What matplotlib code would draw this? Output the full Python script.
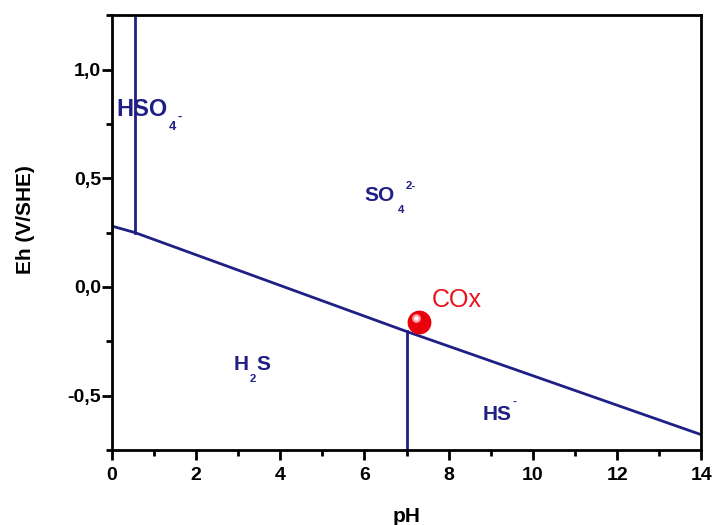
#Diagrama Eh-pH del azufre
import matplotlib
matplotlib.use("Agg")
from matplotlib import pyplot as plt
from matplotlib.ticker import MultipleLocator, FuncFormatter

plt.rcParams['font.family'] = ['Liberation Sans', 'DejaVu Sans']

azul = '#1f1f85'

#frontera H2S / sulfatos (pH, Eh)
frontera_ph = [0, 0.55, 7.0, 14]
frontera_eh = [0.28, 0.25, -0.205, -0.68]

#frontera vertical HSO4- / SO4 2-
hso4_ph = [0.55, 0.55]
hso4_eh = [0.25, 1.25]

#frontera vertical H2S / HS-
h2s_ph = [7.0, 7.0]
h2s_eh = [-0.205, -0.75]

#punto medido
cox_ph = 7.3
cox_eh = -0.16

fig = plt.figure(figsize=(7.12, 5.25), dpi=100)
ax = fig.add_axes([0.157, 0.143, 0.828, 0.828])

ax.plot(frontera_ph, frontera_eh, color=azul, lw=2)
ax.plot(hso4_ph, hso4_eh, color=azul, lw=2)
ax.plot(h2s_ph, h2s_eh, color=azul, lw=2)


#etiqueta estilo Origin: texto, subindice, resto y carga
def etiqueta(x, y, txt, sub='', resto='', carga='', size=15, carga_y=1.0, sub_dx=0.5):
    t = ax.text(x, y, txt, color=azul, fontsize=size, fontweight='bold', va='center', ha='left')
    ult = t
    if sub:
        ult = ax.annotate(sub, xy=(1, 0), xycoords=t, xytext=(sub_dx, 0), textcoords='offset points',
                          va='top', ha='left', color=azul, fontsize=size * 0.55, fontweight='bold')
    if resto:
        ult = ax.annotate(resto, xy=(1, 0), xycoords=(ult, t), xytext=(0, 0), textcoords='offset points',
                          va='bottom', ha='left', color=azul, fontsize=size, fontweight='bold')
    if carga:
        ax.annotate(carga, xy=(1, carga_y), xycoords=(ult, t), xytext=(1, 0), textcoords='offset points',
                    va='center', ha='left', color=azul, fontsize=size * 0.55, fontweight='bold')


etiqueta(0.12, 0.815, 'HSO', sub='4', carga='-', size=17, carga_y=0.2)
etiqueta(6.0, 0.42, 'SO', sub='4', carga='2-', size=15, sub_dx=2.5)
etiqueta(2.9, -0.355, 'H', sub='2', resto='S', size=15)
etiqueta(8.8, -0.585, 'HS', carga='-', size=15, carga_y=1.12)

#esfera roja
ax.scatter([cox_ph], [cox_eh], s=260, color='#e8000b', zorder=5)
ax.scatter([cox_ph - 0.07], [cox_eh + 0.015], s=40, color='#ff9a9a', zorder=6, lw=0)
ax.scatter([cox_ph - 0.08], [cox_eh + 0.018], s=10, color='white', zorder=7, lw=0)
ax.text(cox_ph + 0.3, cox_eh + 0.1, 'COx', color='#e8141c', fontsize=18, va='center')

ax.set_xlim(0, 14)
ax.set_ylim(-0.75, 1.25)
ax.xaxis.set_major_locator(MultipleLocator(2))
ax.xaxis.set_minor_locator(MultipleLocator(1))
ax.yaxis.set_major_locator(MultipleLocator(0.5))
ax.yaxis.set_minor_locator(MultipleLocator(0.25))
ax.yaxis.set_major_formatter(FuncFormatter(lambda v, p: ('%.1f' % v).replace('.', ',')))

for s in ax.spines.values():
    s.set_linewidth(2)
ax.tick_params(which='major', direction='out', length=7, width=2, labelsize=14)
ax.tick_params(axis='x', which='major', pad=5)
ax.tick_params(axis='y', which='major', pad=0.5)
ax.tick_params(which='minor', direction='out', length=4, width=2)
for lab in ax.get_xticklabels() + ax.get_yticklabels():
    lab.set_fontweight('bold')

ax.set_xlabel('pH', fontsize=15, fontweight='bold', labelpad=17)
ax.set_ylabel('Eh (V/SHE)', fontsize=15, fontweight='bold')
ax.yaxis.set_label_coords(-0.13, 0.53)

plt.savefig('out.png', dpi=100)
